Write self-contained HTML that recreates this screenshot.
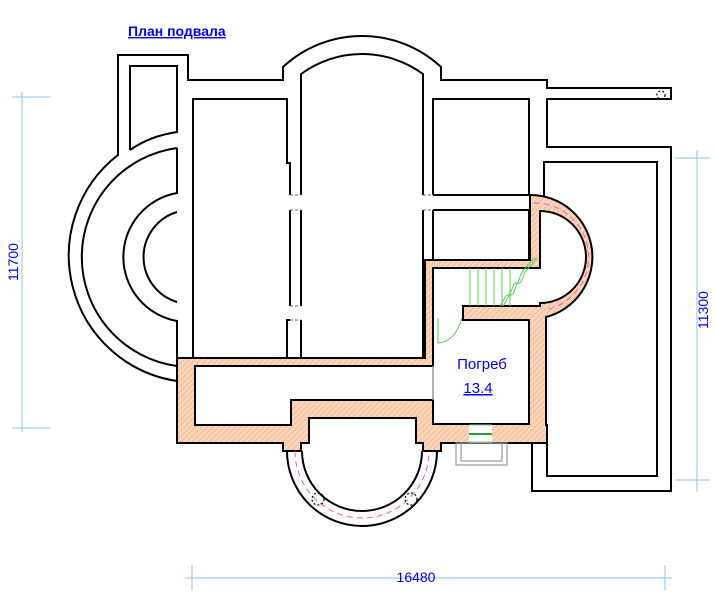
<!DOCTYPE html>
<html><head><meta charset="utf-8"><style>
html,body{margin:0;padding:0;background:#fff;}
svg{display:block;font-family:"Liberation Sans","Noto Sans CJK SC",sans-serif;}
</style></head><body>
<svg width="715" height="600" viewBox="0 0 715 600" xmlns="http://www.w3.org/2000/svg">
<defs>
<pattern id="h" width="4" height="4" patternUnits="userSpaceOnUse" patternTransform="rotate(45)">
<rect width="4" height="4" fill="#fbd6bb"/>
<line x1="0" y1="0" x2="0" y2="4" stroke="#f2ad85" stroke-width="1.4"/>
</pattern>
</defs>
<g fill="none" stroke="#000" stroke-width="2">
<path d="M177,381 A127,127 0 0 1 118,155 V55 H188 V80 H283 V67 A116,116 0 0 1 441,67 V80 H547 V88 H671 V99 H547 V147 H671 V491 H532 V443"/>
<path d="M177,148 A110,110 0 0 0 177,366"/>
<path d="M177,148 V193 A65,65 0 0 0 177,321 V358"/>
<path d="M177,212 A47,47 0 0 0 177,302"/>
<path d="M130,150 V66 H177 V132 Q150,136 130,150"/>
<path d="M193,358 V99 H287 V163 H290 V195 M290,210 V306 M290,320 H287 V358"/>
<path d="M301,195 V74 A103,103 0 0 1 423,74 V195 M423,210 V358 M301,210 V306 M301,320 V358"/>
<path d="M433,195 V99 H529 V195 H433 M433,210 H529 V260 M433,210 V260"/>
<path d="M544,196 V162 H657 V476 H547 V425 H544 V318"/>
</g>
<g stroke="#667" stroke-width="1" stroke-dasharray="3,2">
<path d="M290,195 H301 M290,210 H301 M290,306 H301 M290,320 H301 M423,195 H433 M423,210 H433 M425,306 H433 M425,320 H433"/>
</g>
<path fill="url(#h)" fill-rule="evenodd" stroke="#000" stroke-width="2"
d="M177,358 H425 V260 H530 V195 A62,62 0 0 1 546,317 V425 H547 V443 H441 V451 H423 V443 H416 V418 H309 V443 H301 V451 H283 V443 H177 Z
M195,366 H433 V268 H540 V211 A46,46 0 0 1 540,303 V306 H463 V320 H529 V424 H433 V400 H291 V425 H195 Z"/>
<line x1="433" y1="366" x2="433" y2="400" stroke="#999" stroke-width="1.5"/>
<rect x="469" y="425" width="23" height="17" fill="#fff"/>
<line x1="469" y1="434" x2="492" y2="434" stroke="#2a9a3a" stroke-width="2"/>
<line x1="469" y1="425" x2="492" y2="425" stroke="#8c8" stroke-width="1"/>
<line x1="469" y1="442" x2="492" y2="442" stroke="#8c8" stroke-width="1"/>
<rect x="456" y="443" width="51" height="22" fill="none" stroke="#999" stroke-width="1.2"/>
<rect x="461" y="443" width="41" height="18" fill="none" stroke="#999" stroke-width="1.2"/>
<g fill="none">
<path d="M287,451 A75,75 0 0 0 437,451" stroke="#000" stroke-width="2"/>
<path d="M302,451 A60,60 0 0 0 422,451" stroke="#000" stroke-width="2"/>
<path d="M295,451 A67,67 0 0 0 429,451" stroke="#e060e0" stroke-width="1" stroke-dasharray="6,4"/>
<circle cx="318" cy="499" r="6" stroke="#000" stroke-width="1.2" stroke-dasharray="2,2"/>
<circle cx="411" cy="499" r="6" stroke="#000" stroke-width="1.2" stroke-dasharray="2,2"/>
<path d="M534,203 A54,54 0 0 1 545,310" stroke="#e060e0" stroke-width="1" stroke-dasharray="6,4"/>
<circle cx="661" cy="95" r="4" stroke="#000" stroke-width="1.2" stroke-dasharray="2,2"/>
</g>
<g stroke="#5c5" stroke-width="1" fill="none">
<path d="M470,268 V306 M478,268 V306 M486,268 V306 M494,268 V306 M502,268 V306 M510,268 V306"/>
<path d="M500,306 L506,296 L510,294 L514,284 L518,282 L522,272 L534,258"/>
<path d="M503,306 L509,296 L513,294 L517,284 L521,282 L525,272 L537,258"/>
<path d="M438,318 V343 Q455,342 462,318"/>
</g>
<text x="128" y="36" font-size="14" font-weight="bold" fill="#0000ee" text-decoration="underline">План подвала</text>
<text x="482" y="369" font-size="15" fill="#0000ee" text-anchor="middle">Погреб</text>
<text x="478" y="393" font-size="15" fill="#0000ee" text-anchor="middle" text-decoration="underline">13.4</text>
<g stroke="#8fc0ee" stroke-width="1">
<path d="M22,92 V432 M12,97 H50 M12,428 H50"/>
<path d="M697,150 V492 M675,158 H710 M675,480 H710"/>
<path d="M185,578 H672 M192,565 V590 M665,565 V590"/>
</g>
<text x="18" y="262" font-size="14" fill="#0000ee" text-anchor="middle" transform="rotate(-90 18 262)">11700</text>
<text x="708" y="310" font-size="14" fill="#0000ee" text-anchor="middle" transform="rotate(-90 708 310)">11300</text>
<text x="416" y="582" font-size="14" fill="#0000ee" text-anchor="middle">16480</text>
</svg>
</body></html>
